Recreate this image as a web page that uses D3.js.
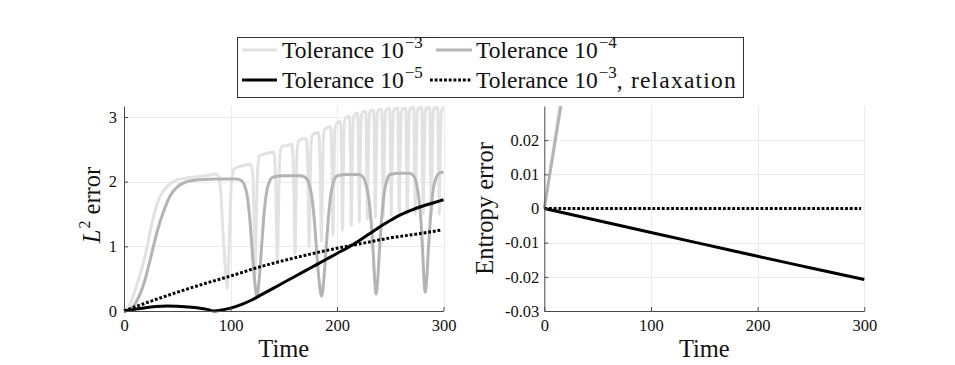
<!DOCTYPE html>
<html><head><meta charset="utf-8">
<script src="https://cdn.jsdelivr.net/npm/d3@7"></script>
<style>
body{margin:0;background:#fff}
svg{display:block}
text{font-family:"Liberation Serif","Times New Roman",serif;fill:#111}
</style>
</head><body>
<svg id="chart" width="955" height="365"></svg>
<script>
// ---------------- data ----------------
const xTicks = [0, 100, 200, 300];
const yTicksL2 = [0, 1, 2, 3];
const yTicksEnt = [-0.03, -0.02, -0.01, 0, 0.01, 0.02];
const yTickLabelsEnt = ["-0.03", "-0.02", "-0.01", "0", "0.01", "0.02"];
const xLabel = "Time";
const yLabelEnt = "Entropy error";

const seriesNames = [
  {base: "Tolerance 10", exp: "\u22123", tail: ""},
  {base: "Tolerance 10", exp: "\u22124", tail: ""},
  {base: "Tolerance 10", exp: "\u22125", tail: ""},
  {base: "Tolerance 10", exp: "\u22123", tail: ", relaxation"}
];

// L2 error, tolerance 1e-3
const tol3L2 = [
 [0,0],[5,0.08],[10,0.3],[15,0.56],[20,0.86],[24,1.18],[28,1.48],[32,1.7],[37,1.86],[43,1.96],[50,2.03],[60,2.06],[70,2.08],[80,2.1],[86,2.12],[89,2.08],[91,1.8],[93,1.2],[95,0.7],[97,0.35],
 [98.5,0.9],[100,1.7],[101.5,2.08],[103.5,2.2],[110,2.24],[119,2.27],
 [121,2.1],[122,1.5],[123,0.55],
 [124.2,1.4],[125.5,2.2],[127.5,2.4],[135,2.44],[140.5,2.46],
 [142,2.2],[143,1.5],[144,0.75],
 [145,1.5],[146.2,2.35],[148,2.54],[153,2.56],[157.5,2.58],
 [158.8,2.35],[159.7,1.7],[160.6,0.88],
 [161.5,1.7],[162.6,2.5],[164.5,2.64],[171,2.67],
 [172.2,2.45],[173,1.8],[173.8,1.0],
 [174.7,1.8],[175.7,2.6],[177.3,2.73],[182.5,2.76],
 [183.7,2.5],[184.5,1.9],[185.4,1.08],
 [186.3,1.9],[187.3,2.7],[188.8,2.82],[193.8,2.85],
 [194.8,2.6],[195.5,2.0],[196.2,1.18],
 [197,2.0],[198,2.8],[199.4,2.9],[203,2.93],
 [203.9,2.7],[204.5,2.1],[205.1,1.25],
 [205.9,2.1],[206.8,2.9],[208.1,2.98],[211.4,3.01],
 [212.2,2.8],[212.8,2.2],[213.4,1.32],
 [214.3,2.3],[215.4,2.98],[216.8,3.04],[219.5,3.06],[220.3,2.3],[221,1.38],
 [221.8,2.3],[222.9,3.02],[224.3,3.08],[227,3.09],[227.8,2.3],[228.5,1.42],
 [229.3,2.3],[230.4,3.04],[231.8,3.1],[234.5,3.11],[235.3,2.3],[236,1.45],
 [236.8,2.3],[237.9,3.05],[239.3,3.11],[242,3.12],[242.8,2.3],[243.5,1.47],
 [244.3,2.3],[245.4,3.06],[246.8,3.12],[249.5,3.13],[250.3,2.3],[251,1.48],
 [251.8,2.3],[252.9,3.07],[254.3,3.13],[257,3.14],[257.8,2.3],[258.5,1.49],
 [259.3,2.3],[260.4,3.07],[261.8,3.13],[264.5,3.14],[265.3,2.3],[266,1.5],
 [266.8,2.3],[267.9,3.08],[269.3,3.14],[272,3.15],[272.8,2.3],[273.5,1.5],
 [274.3,2.3],[275.4,3.08],[276.8,3.14],[279.5,3.15],[280.3,2.3],[281,1.5],
 [281.8,2.3],[282.9,3.08],[284.3,3.14],[287,3.15],[287.8,2.3],[288.5,1.5],
 [289.3,2.3],[290.4,3.08],[291.8,3.14],[294.5,3.15],[295.3,2.3],[296,1.5],
 [296.8,2.3],[297.9,3.08],[299.2,3.14],[300,3.15]
];

// L2 error, tolerance 1e-4
const tol4L2 = [
 [0,0],[5,0.02],[10,0.1],[15,0.26],[19.7,0.48],[23.5,0.72],[27.5,0.99],[32,1.28],[37,1.53],[43,1.77],[50,1.92],[59,2.0],[70,2.03],[90,2.04],[105,2.04],
 [110,2.02],[113,1.95],[116,1.75],[118.5,1.35],[120.5,0.9],[122.5,0.5],[124.8,0.22],[127,0.5],[129,0.95],[131,1.4],[133.5,1.8],[136.5,2.0],[140,2.07],[150,2.09],[165,2.09],
 [170,2.07],[173.5,1.98],[176.5,1.75],[179,1.35],[181,0.9],[183,0.5],[185.5,0.23],[187.7,0.5],[189.7,0.95],[191.7,1.4],[194.2,1.8],[197.2,2.02],[200,2.09],[210,2.11],[220,2.11],
 [224,2.08],[227,1.97],[230,1.72],[232.2,1.35],[234,0.9],[235.3,0.5],[236.6,0.26],[238.3,0.5],[239.9,0.95],[241.8,1.4],[244.3,1.82],[247.3,2.04],[250,2.11],[260,2.13],[268,2.13],
 [272,2.09],[274.5,1.98],[277,1.72],[279,1.35],[280.5,0.9],[281.6,0.5],[282.8,0.29],[284.3,0.5],[285.8,0.95],[287.6,1.4],[289.8,1.82],[292.8,2.05],[296,2.13],[300,2.15]
];

// L2 error, tolerance 1e-5
const tol5L2 = [
 [0,0],[10,0.025],[20,0.05],[30,0.068],[40,0.077],[50,0.075],[60,0.062],[70,0.045],[78,0.025],[85,0.0],[92,0.015],[100,0.045],[110,0.1],[120,0.17],[130,0.26],[140,0.35],[150,0.44],[160,0.53],[170,0.62],[180,0.71],[190,0.8],[200,0.89],[210,0.98],[220,1.08],[230,1.19],[240,1.3],[250,1.4],[260,1.49],[270,1.56],[280,1.62],[290,1.67],[300,1.72]
];

// L2 error, tolerance 1e-3 with relaxation
const relaxL2 = [
 [0,0],[25,0.15],[50,0.29],[75,0.42],[100,0.54],[125,0.67],[150,0.78],[175,0.88],[200,0.97],[225,1.05],[250,1.13],[275,1.19],[297,1.25]
];

// Entropy error
const tol3Ent = [[0,0],[14.5,0.03],[18,0.0372]];
const tol4Ent = [[0,0],[15.5,0.03],[19,0.0368]];
const tol5Ent = [[0,0],[50,-0.0035],[100,-0.007],[150,-0.0105],[200,-0.014],[250,-0.0174],[300,-0.0208]];
const relaxEnt = [[0,0],[100,0],[200,0],[297,0]];

// ---------------- styles ----------------
const FONT = '"Liberation Serif","Times New Roman",serif';
const styles = [
  {color:"#e2e2e2", dash:null},
  {color:"#b4b4b4", dash:null},
  {color:"#000000", dash:null},
  {color:"#000000", dash:"2.8,1.9"}
];
const LW = 3;

const svg = d3.select("#chart");

function panel(opts){
  const {x, y, xt, yt, ytLabels, data, id, labelPad} = opts;
  const [x0, x1] = x.range();
  const [yb, ytop] = y.range();
  const g = svg.append("g");

  // grid
  g.append("g").selectAll("line").data(xt.filter(v => v !== 0)).join("line")
    .attr("x1", d => Math.round(x(d)) + 0.5).attr("x2", d => Math.round(x(d)) + 0.5)
    .attr("y1", yb).attr("y2", ytop)
    .attr("stroke", "#ebebeb").attr("stroke-width", 1);
  g.append("g").selectAll("line").data(yt.filter(v => y(v) < yb - 1)).join("line")
    .attr("y1", d => Math.round(y(d)) + 0.5).attr("y2", d => Math.round(y(d)) + 0.5)
    .attr("x1", x0).attr("x2", x1)
    .attr("stroke", "#ebebeb").attr("stroke-width", 1);

  // clip
  svg.append("clipPath").attr("id", id).append("rect")
    .attr("x", x0 - 4).attr("y", ytop).attr("width", x1 - x0 + 8).attr("height", yb - ytop + 4);

  const line = d3.line().x(d => x(d[0])).y(d => y(d[1])).curve(d3.curveMonotoneX);
  const lg = g.append("g").attr("clip-path", `url(#${id})`);
  data.forEach((s, i) => {
    lg.append("path").attr("d", line(s))
      .attr("fill", "none").attr("stroke", styles[i].color)
      .attr("stroke-width", LW)
      .attr("stroke-linejoin", "round")
      .attr("stroke-dasharray", styles[i].dash);
  });

  // axes
  const ax = g.append("g").attr("transform", `translate(0,${yb})`)
    .call(d3.axisBottom(x).tickValues(xt).tickSizeInner(-4).tickSizeOuter(0).tickPadding(8));
  const ay = g.append("g").attr("transform", `translate(${x0},0)`)
    .call(d3.axisLeft(y).tickValues(yt).tickSizeInner(-4).tickSizeOuter(0).tickPadding(labelPad)
      .tickFormat((d, i) => ytLabels ? ytLabels[i] : d3.format("d")(d)));
  [ax, ay].forEach(a => {
    a.attr("font-family", FONT).attr("font-size", 16.5);
    a.select(".domain").attr("stroke", "#4a4a4a").attr("stroke-width", 1);
    a.selectAll(".tick line").attr("stroke", "#4a4a4a");
    a.selectAll(".tick text").attr("fill", "#111").attr("font-family", FONT).attr("font-size", 16.5);
  });
  return g;
}

const xL = d3.scaleLinear([0, 300], [124, 443.5]);
const yL = d3.scaleLinear([0, 3.17], [311, 106]);
const xR = d3.scaleLinear([0, 300], [544.3, 864.3]);
const yR = d3.scaleLinear([-0.03, 0.03], [311, 106]);

panel({x:xL, y:yL, xt:xTicks, yt:yTicksL2, ytLabels:null, data:[tol3L2, tol4L2, tol5L2, relaxL2], id:"clipL", labelPad:7});
panel({x:xR, y:yR, xt:xTicks, yt:yTicksEnt, ytLabels:yTickLabelsEnt, data:[tol3Ent, tol4Ent, tol5Ent, relaxEnt], id:"clipR", labelPad:5});

// axis labels
svg.append("text").attr("x", (xL(0) + xL(300)) / 2).attr("y", 357)
  .attr("text-anchor", "middle").attr("font-size", 24.5).text(xLabel);
svg.append("text").attr("x", (xR(0) + xR(300)) / 2).attr("y", 357)
  .attr("text-anchor", "middle").attr("font-size", 24.5).text(xLabel);

const yl = svg.append("text").attr("transform", "translate(100,205) rotate(-90)")
  .attr("text-anchor", "middle").attr("font-size", 24.5);
yl.append("tspan").attr("font-style", "italic").text("L");
yl.append("tspan").attr("font-size", 16).attr("dx", 1).attr("dy", -10).text("2");
yl.append("tspan").attr("dy", 10).text(" error");

svg.append("text").attr("transform", "translate(493,208.5) rotate(-90)")
  .attr("text-anchor", "middle").attr("font-size", 24.5).text(yLabelEnt);

// legend
const leg = svg.append("g");
leg.append("rect").attr("x", 237.5).attr("y", 37.5).attr("width", 506).attr("height", 60)
  .attr("fill", "#fff").attr("stroke", "#333").attr("stroke-width", 1);
const legPos = [
  {lx1:242, lx2:277, tx:282, ly:50, ty:57.5},
  {lx1:436, lx2:472, tx:476, ly:50, ty:57.5},
  {lx1:242, lx2:277, tx:282, ly:80, ty:87.5},
  {lx1:430, lx2:472, tx:476, ly:80, ty:87.5}
];
seriesNames.forEach((s, i) => {
  const p = legPos[i];
  leg.append("line").attr("x1", p.lx1).attr("x2", p.lx2).attr("y1", p.ly).attr("y2", p.ly)
    .attr("stroke", styles[i].color).attr("stroke-width", LW)
    .attr("stroke-dasharray", styles[i].dash);
  const t = leg.append("text").attr("x", p.tx).attr("y", p.ty).attr("font-size", 23.5);
  t.append("tspan").text(s.base);
  t.append("tspan").attr("font-size", 17).attr("dx", 1).attr("dy", -10).text(s.exp);
  if (s.tail) t.append("tspan").attr("dy", 10).attr("letter-spacing", 1.2).text(s.tail);
});
</script>
</body></html>
